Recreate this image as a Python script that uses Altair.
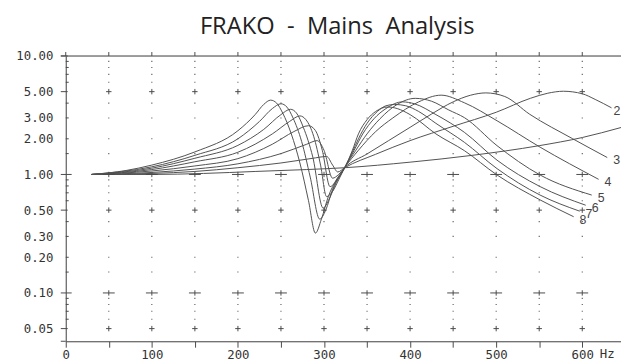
import altair as alt
import pandas as pd

# ---------------- data ----------------
title_text = "FRAKO\u00a0\u00a0-\u00a0\u00a0Mains\u00a0\u00a0Analysis"
curve_ids = ["1", "2", "3", "4", "5", "6", "7", "8"]

c1_f = [30, 100, 160, 220, 280, 324, 400, 472, 550, 600, 645]
c1_v = [1.0, 1.0, 1.02, 1.06, 1.1, 1.14, 1.27, 1.45, 1.75, 2.05, 2.49]

c2_f = [30, 100, 150, 200, 250, 290, 303, 310, 316, 324, 360, 400, 450, 500, 540, 560, 578, 600, 615, 634]
c2_v = [1.0, 1.02, 1.06, 1.14, 1.25, 1.38, 1.42, 1.2, 1.05, 1.14, 1.48, 1.93, 2.55, 3.35, 4.4, 4.85, 5.04, 4.8, 4.3, 3.65]

c3_f = [30, 100, 150, 200, 250, 280, 292, 300, 310, 317, 324, 350, 375, 400, 425, 450, 470, 488, 510, 539, 589, 629]
c3_v = [1.0, 1.04, 1.11, 1.23, 1.5, 1.8, 1.93, 1.6, 0.93, 1.0, 1.14, 1.49, 1.93, 2.5, 3.24, 4.1, 4.66, 4.88, 4.55, 3.22, 2.0, 1.39]

c4_f = [30, 100, 150, 200, 240, 265, 282, 290, 298, 307, 315, 324, 340, 360, 380, 410, 436, 463, 501, 551, 619]
c4_v = [1.0, 1.07, 1.18, 1.36, 1.8, 2.3, 2.58, 2.35, 1.6, 0.79, 0.9, 1.14, 1.6, 2.3, 3.0, 4.1, 4.67, 4.03, 2.84, 1.7, 0.91]

c5_f = [30, 100, 150, 200, 240, 260, 272, 279, 288, 296, 303, 310, 317, 324, 337, 350, 365, 385, 406, 425, 445, 463, 501, 551, 611]
c5_v = [1.0, 1.1, 1.28, 1.54, 2.2, 2.8, 3.12, 2.9, 2.1, 1.2, 0.65, 0.72, 0.9, 1.14, 1.6, 2.2, 2.95, 3.9, 4.39, 4.15, 3.5, 3.02, 1.75, 0.99, 0.67]

c6_f = [30, 100, 150, 200, 230, 250, 261, 268, 276, 287, 299, 306, 314, 324, 335, 345, 358, 372, 391, 405, 430, 463, 501, 551, 604]
c6_v = [1.0, 1.13, 1.37, 1.76, 2.4, 3.2, 3.55, 3.3, 2.5, 1.4, 0.52, 0.62, 0.85, 1.14, 1.6, 2.2, 2.95, 3.6, 4.1, 3.95, 3.2, 2.27, 1.32, 0.79, 0.55]

c7_f = [30, 100, 150, 200, 225, 240, 250, 257, 264, 274, 284, 295, 302, 310, 324, 333, 340, 350, 362, 372, 382, 395, 410, 430, 463, 501, 551, 597]
c7_v = [1.0, 1.16, 1.45, 2.0, 2.8, 3.6, 3.95, 3.7, 3.0, 1.9, 0.95, 0.42, 0.5, 0.75, 1.14, 1.55, 2.0, 2.7, 3.4, 3.8, 3.9, 3.8, 3.4, 2.7, 1.87, 1.12, 0.67, 0.49]

c8_f = [30, 70, 100, 150, 200, 220, 230, 238, 245, 252, 262, 272, 282, 290, 297, 305, 315, 324, 333, 340, 350, 360, 374, 385, 400, 430, 463, 501, 551, 590]
c8_v = [1.0, 1.08, 1.2, 1.55, 2.34, 3.2, 3.9, 4.24, 4.0, 3.3, 2.2, 1.25, 0.6, 0.32, 0.42, 0.65, 0.92, 1.14, 1.6, 2.2, 2.9, 3.4, 3.71, 3.6, 3.2, 2.2, 1.59, 0.99, 0.61, 0.44]

grid_x = [50, 100, 150, 200, 250, 300, 350, 400, 450, 500, 550, 600]
top_tick_x = [0] + grid_x
x_tick_values = [0] + grid_x
y_label_values = [10, 5, 3, 2, 1, 0.5, 0.3, 0.2, 0.1, 0.05]
y_major_small = [10, 5, 0.5, 0.05]
y_major_wide = [1, 0.1]
y_minor = [9, 8, 7, 6, 4, 3, 2, 1.5, 0.9, 0.8, 0.7, 0.6, 0.4, 0.3, 0.2, 0.15, 0.09, 0.08, 0.07, 0.06]
plus_small_y = [5, 0.5, 0.05]
plus_wide_y = [1, 0.1]
hz_label = "Hz"

# ---------------- frames ----------------
curves = {"1": (c1_f, c1_v), "2": (c2_f, c2_v), "3": (c3_f, c3_v), "4": (c4_f, c4_v),
          "5": (c5_f, c5_v), "6": (c6_f, c6_v), "7": (c7_f, c7_v), "8": (c8_f, c8_v)}
rows = []
for cid in curve_ids:
    fs, vs = curves[cid]
    for i, (f, v) in enumerate(zip(fs, vs)):
        rows.append({"curve": cid, "f": f, "v": v, "i": i})
df_lines = pd.DataFrame(rows)

df_labels = pd.DataFrame([{"curve": c, "f": curves[c][0][-1], "v": curves[c][1][-1]}
                          for c in curve_ids if c not in ("1", "2")])
df_label2 = pd.DataFrame([{"curve": "2", "f": curves["2"][0][-1], "v": curves["2"][1][-1]}])

df_dots = pd.DataFrame([{"f": x, "v": y} for x in grid_x for y in y_minor])
df_plus_s = pd.DataFrame([{"f": x, "v": y} for x in grid_x for y in plus_small_y])
df_plus_w = pd.DataFrame([{"f": x, "v": y} for x in grid_x for y in plus_wide_y])

W, H = 562.5, 289
INK = "#4a4a4a"
MONO = "DejaVu Sans Mono"

xs = alt.Scale(domain=[0, 645], nice=False, zero=False)
ys = alt.Scale(type="log", domain=[0.0391, 10], nice=False)

x_axis = alt.Axis(values=x_tick_values, title=None, grid=False,
                  labelExpr="datum.value % 100 == 0 ? datum.label : ''", format="d",
                  tickSize=6, labelPadding=1, labelFont=MONO, labelFontSize=12.5, labelColor="#333",
                  domainColor=INK, tickColor=INK, labelFlush=False)
y_axis = alt.Axis(values=y_label_values, format=".2f", title=None, grid=False,
                  ticks=False, labelPadding=13, labelFont=MONO, labelFontSize=12.5, labelColor="#333",
                  domainColor=INK)

def xq():
    return alt.X("f:Q", scale=xs, axis=x_axis)

def yq():
    return alt.Y("v:Q", scale=ys, axis=y_axis)

base_lines = alt.Chart(df_lines).mark_line(strokeWidth=1, color="#505050", interpolate="monotone").encode(
    x=xq(), y=yq(), detail="curve:N", order="i:Q")

dots = alt.Chart(df_dots).mark_point(shape="square", filled=True, size=1.2, color="#555", opacity=1).encode(x=xq(), y=yq())

plus_s = alt.Chart(df_plus_s).mark_point(shape="M-1,0L1,0M0,-1L0,1", filled=False, size=30,
                                         color=INK, strokeWidth=1, opacity=1).encode(x=xq(), y=yq())
plus_w = alt.Chart(df_plus_w).mark_point(shape="M-1,0L1,0M0,-0.45L0,0.45", filled=False, size=144,
                                         color=INK, strokeWidth=1, opacity=1).encode(x=xq(), y=yq())

top_line = alt.Chart(pd.DataFrame({"v": [10]})).mark_rule(color=INK, strokeWidth=1).encode(
    y=yq(), x=alt.value(-5), x2=alt.value(W))
top_ticks = alt.Chart(pd.DataFrame({"f": top_tick_x})).mark_rule(color=INK, strokeWidth=1).encode(
    x=xq(), y=alt.value(-4), y2=alt.value(0))
yt_major = alt.Chart(pd.DataFrame({"v": y_major_small})).mark_rule(color=INK, strokeWidth=1).encode(
    y=yq(), x=alt.value(-5), x2=alt.value(2))
yt_wide = alt.Chart(pd.DataFrame({"v": y_major_wide})).mark_rule(color=INK, strokeWidth=1).encode(
    y=yq(), x=alt.value(-5), x2=alt.value(6))
yt_minor = alt.Chart(pd.DataFrame({"v": y_minor})).mark_rule(color=INK, strokeWidth=1).encode(
    y=yq(), x=alt.value(0), x2=alt.value(3))
x_left = alt.Chart(pd.DataFrame({"v": [0.0391]})).mark_rule(color=INK, strokeWidth=1).encode(
    y=yq(), x=alt.value(-5), x2=alt.value(0))

labels = alt.Chart(df_labels).mark_text(align="left", baseline="middle", dx=6, dy=3,
                                        font="Liberation Sans", fontSize=12.5, color="#444").encode(
    x=xq(), y=yq(), text="curve:N")
label2 = alt.Chart(df_label2).mark_text(align="left", baseline="middle", dx=2, dy=3,
                                        font="Liberation Sans", fontSize=12.5, color="#444").encode(
    x=xq(), y=yq(), text="curve:N")

hz = alt.Chart(pd.DataFrame({"t": [hz_label]})).mark_text(align="left", baseline="top",
                                                          font=MONO, fontSize=12.5, color="#333").encode(
    x=alt.value(541), y=alt.value(H + 7), text="t:N")

title = alt.Chart(pd.DataFrame({"t": [title_text]})).mark_text(align="center", baseline="alphabetic",
                                                                font="Open Sans", fontSize=24, color="#222").encode(
    x=alt.value(275), y=alt.value(-22.6), text="t:N")

chart = alt.layer(base_lines, dots, plus_s, plus_w, top_line, top_ticks, yt_major, yt_wide, yt_minor,
                  x_left, labels, label2, hz, title).properties(
    width=W, height=H,
    autosize=alt.AutoSizeParams(type="none"),
    padding={"left": 58.5, "top": 46.3, "right": 0, "bottom": 18.7},
).configure_view(stroke=None).configure(background="white")

chart.save("out.html", embed_options={"renderer": "svg", "actions": False})
